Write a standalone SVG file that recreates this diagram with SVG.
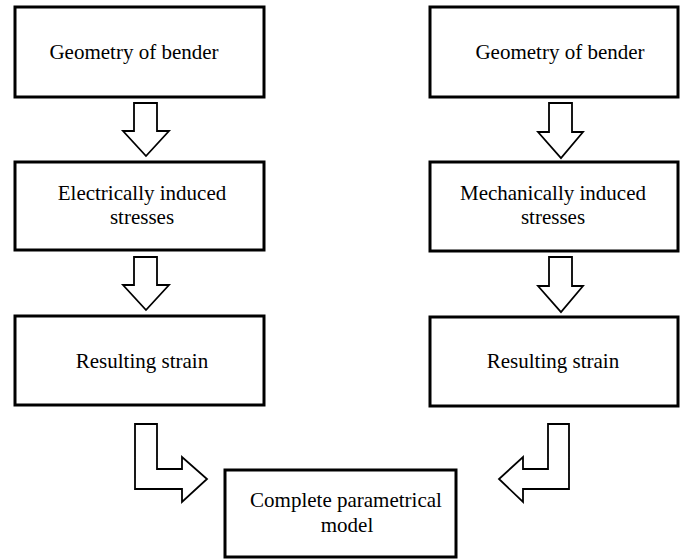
<svg xmlns="http://www.w3.org/2000/svg" width="683" height="560" viewBox="0 0 683 560">
<style>
.box{fill:#fff;stroke:#000;stroke-width:3}
.arr{fill:#fff;stroke:#000;stroke-width:1.8;stroke-linejoin:miter}
.t{font-family:'Liberation Serif','Times New Roman','DejaVu Serif',serif;font-size:21px;fill:#000;text-anchor:middle}
</style>
<rect width="683" height="560" fill="#fff"/>
<g id="connectors">
<path class="arr" d="M134,103 H157 V131 H169 L146,156 L123,131 H134 Z"/>
<path class="arr" d="M134,257 H157 V285 H169 L146,310 L123,285 H134 Z"/>
<path class="arr" d="M549,103 H572 V132 H583 L561,158 L538,132 H549 Z"/>
<path class="arr" d="M549,257 H572 V286 H583 L561,312 L538,286 H549 Z"/>
<path class="arr" d="M135,424 H157 V469 H182 V457 L207,479 L182,502 V489 H135 Z"/>
<path class="arr" d="M569,424 H548 V469 H523 V457 L499,479 L523,502 V489 H569 Z"/>
</g>
<g font-family="Liberation Serif, serif">
<g id="n1"><rect class="box" x="15" y="7" width="249" height="90"/><text class="t" x="134" y="59">Geometry of bender</text></g>
<g id="n2"><rect class="box" x="15" y="162" width="249" height="88"/><text class="t" x="142" y="200">Electrically induced</text><text class="t" x="142" y="224">stresses</text></g>
<g id="n3"><rect class="box" x="15" y="316" width="249" height="89"/><text class="t" x="142" y="368">Resulting strain</text></g>
<g id="n4"><rect class="box" x="430" y="7" width="248" height="90"/><text class="t" x="560" y="59">Geometry of bender</text></g>
<g id="n5"><rect class="box" x="430" y="162" width="248" height="89"/><text class="t" x="553" y="200">Mechanically induced</text><text class="t" x="553" y="224">stresses</text></g>
<g id="n6"><rect class="box" x="430" y="317" width="248" height="89"/><text class="t" x="553" y="368">Resulting strain</text></g>
<g id="n7"><rect class="box" x="225" y="470" width="231" height="87"/><text class="t" x="346" y="507">Complete parametrical</text><text class="t" x="347" y="532">model</text></g>
</g>
</svg>
